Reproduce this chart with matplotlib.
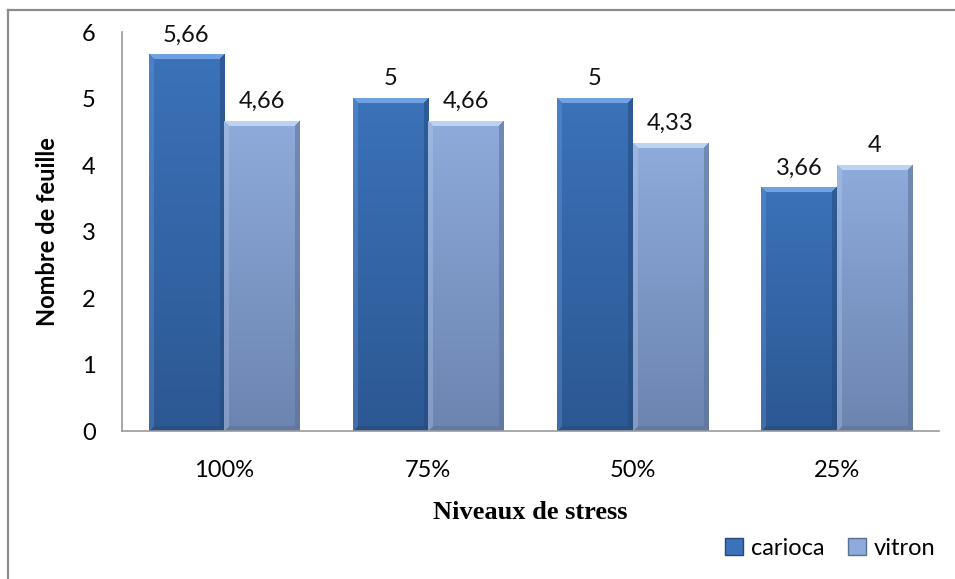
import numpy as np
import matplotlib
matplotlib.use("Agg")
import matplotlib.pyplot as plt
from matplotlib.colors import to_rgb
from matplotlib.lines import Line2D
from matplotlib.patches import Patch

categories = ["100%", "75%", "50%", "25%"]
carioca = [5.66, 5, 5, 3.66]
vitron = [4.66, 4.66, 4.33, 4]
series_names = ["carioca", "vitron"]
yticks = [0, 1, 2, 3, 4, 5, 6]

plt.rcParams["font.family"] = ["Lato", "DejaVu Sans"]
FS = 17

# bottom colour, top colour, bevel light, bevel dark
STYLES = {
    "carioca": ("#2c5893", "#3b72b9", "#7eaeea", "#24497a"),
    "vitron": ("#6c84b0", "#8eabdb", "#cadcf6", "#5a6f95"),
}


def fmt(v):
    s = f"{v:g}"
    return s.replace(".", ",")


def bevel_bar(ax, x0, width, height, name, px_per_x, px_per_y):
    bot, top, light, dark = (np.array(to_rgb(c)) for c in STYLES[name])
    W = max(int(round(width * px_per_x)), 2)
    H = max(int(round(height * px_per_y)), 2)
    u = (np.arange(W) + 0.5)[None, :]
    v = (np.arange(H) + 0.5)[:, None]  # from bottom
    t = v / H
    img = bot * (1 - t[..., None]) + top * t[..., None]
    img = np.broadcast_to(img, (H, W, 3)).copy()
    dl, dr = u * np.ones_like(v), (W - u) * np.ones_like(v)
    dt, db = (H - v) * np.ones_like(u), v * np.ones_like(u)
    d = np.stack([dl, dr, dt, db])
    side = d.argmin(axis=0)
    edge = d.min(axis=0) < 5.5
    mix = {0: (light, 0.25), 1: (dark, 0.55), 2: (light, 0.8), 3: (dark, 0.5)}
    for k, (c, a) in mix.items():
        m = edge & (side == k)
        img[m] = img[m] * (1 - a) + c * a
    ax.imshow(img, origin="lower", extent=(x0, x0 + width, 0, height),
              aspect="auto", interpolation="bilinear", zorder=2)


fig = plt.figure(figsize=(9.55, 5.79), dpi=100)
ax = fig.add_axes([0.1277, 0.2556, 0.8555, 0.689])

x = np.arange(len(categories))
w = 0.37
ax.set_xlim(-0.5, len(categories) - 0.5)
ax.set_ylim(0, 6)
px_x = 0.8555 * 955 / len(categories)
px_y = 0.689 * 579 / 6

for name, vals, off in [("carioca", carioca, -w), ("vitron", vitron, 0.0)]:
    for xi, val in zip(x, vals):
        bevel_bar(ax, xi + off, w, val, name, px_x, px_y)
        ax.text(xi + off + w / 2, val + 0.14, fmt(val), ha="center",
                va="bottom", fontsize=FS, color="#111111")

ax.set_xticks(x)
ax.set_xticklabels(categories, fontsize=FS)
ax.set_yticks(yticks)
ax.set_yticklabels([str(t) for t in yticks], fontsize=FS)
ax.tick_params(axis="both", length=0)
ax.tick_params(axis="y", pad=19)
ax.tick_params(axis="x", pad=21)
for s in ["top", "right"]:
    ax.spines[s].set_visible(False)
for s in ["left", "bottom"]:
    ax.spines[s].set_color("#9a9a9a")
    ax.spines[s].set_linewidth(1.2)

fig.text(0.05, 0.6, "Nombre de feuille", rotation=90, ha="center",
         va="center", fontsize=FS, fontweight="bold")
fig.text(0.555, 0.114, "Niveaux de stress", ha="center", va="center",
         fontsize=19, fontweight="bold", family="Liberation Serif")

handles = [Patch(facecolor=STYLES[n][1], edgecolor=STYLES[n][3], lw=1.0)
           for n in series_names]
fig.legend(handles, series_names, loc="center right",
           bbox_to_anchor=(0.997, 0.0535), ncol=2, frameon=False, fontsize=FS,
           handlelength=0.75, handleheight=0.75, handletextpad=0.35,
           columnspacing=1.0, borderpad=0.2)

# chart border (runs off the right and bottom edges)
fig.add_artist(Line2D([8 / 955, 1.0], [1 - 10 / 579] * 2, color="#8c8c8c",
                      lw=1.6, transform=fig.transFigure))
fig.add_artist(Line2D([8 / 955] * 2, [0.0, 1 - 10 / 579], color="#8c8c8c",
                      lw=1.6, transform=fig.transFigure))

fig.savefig("out.png", dpi=100)
